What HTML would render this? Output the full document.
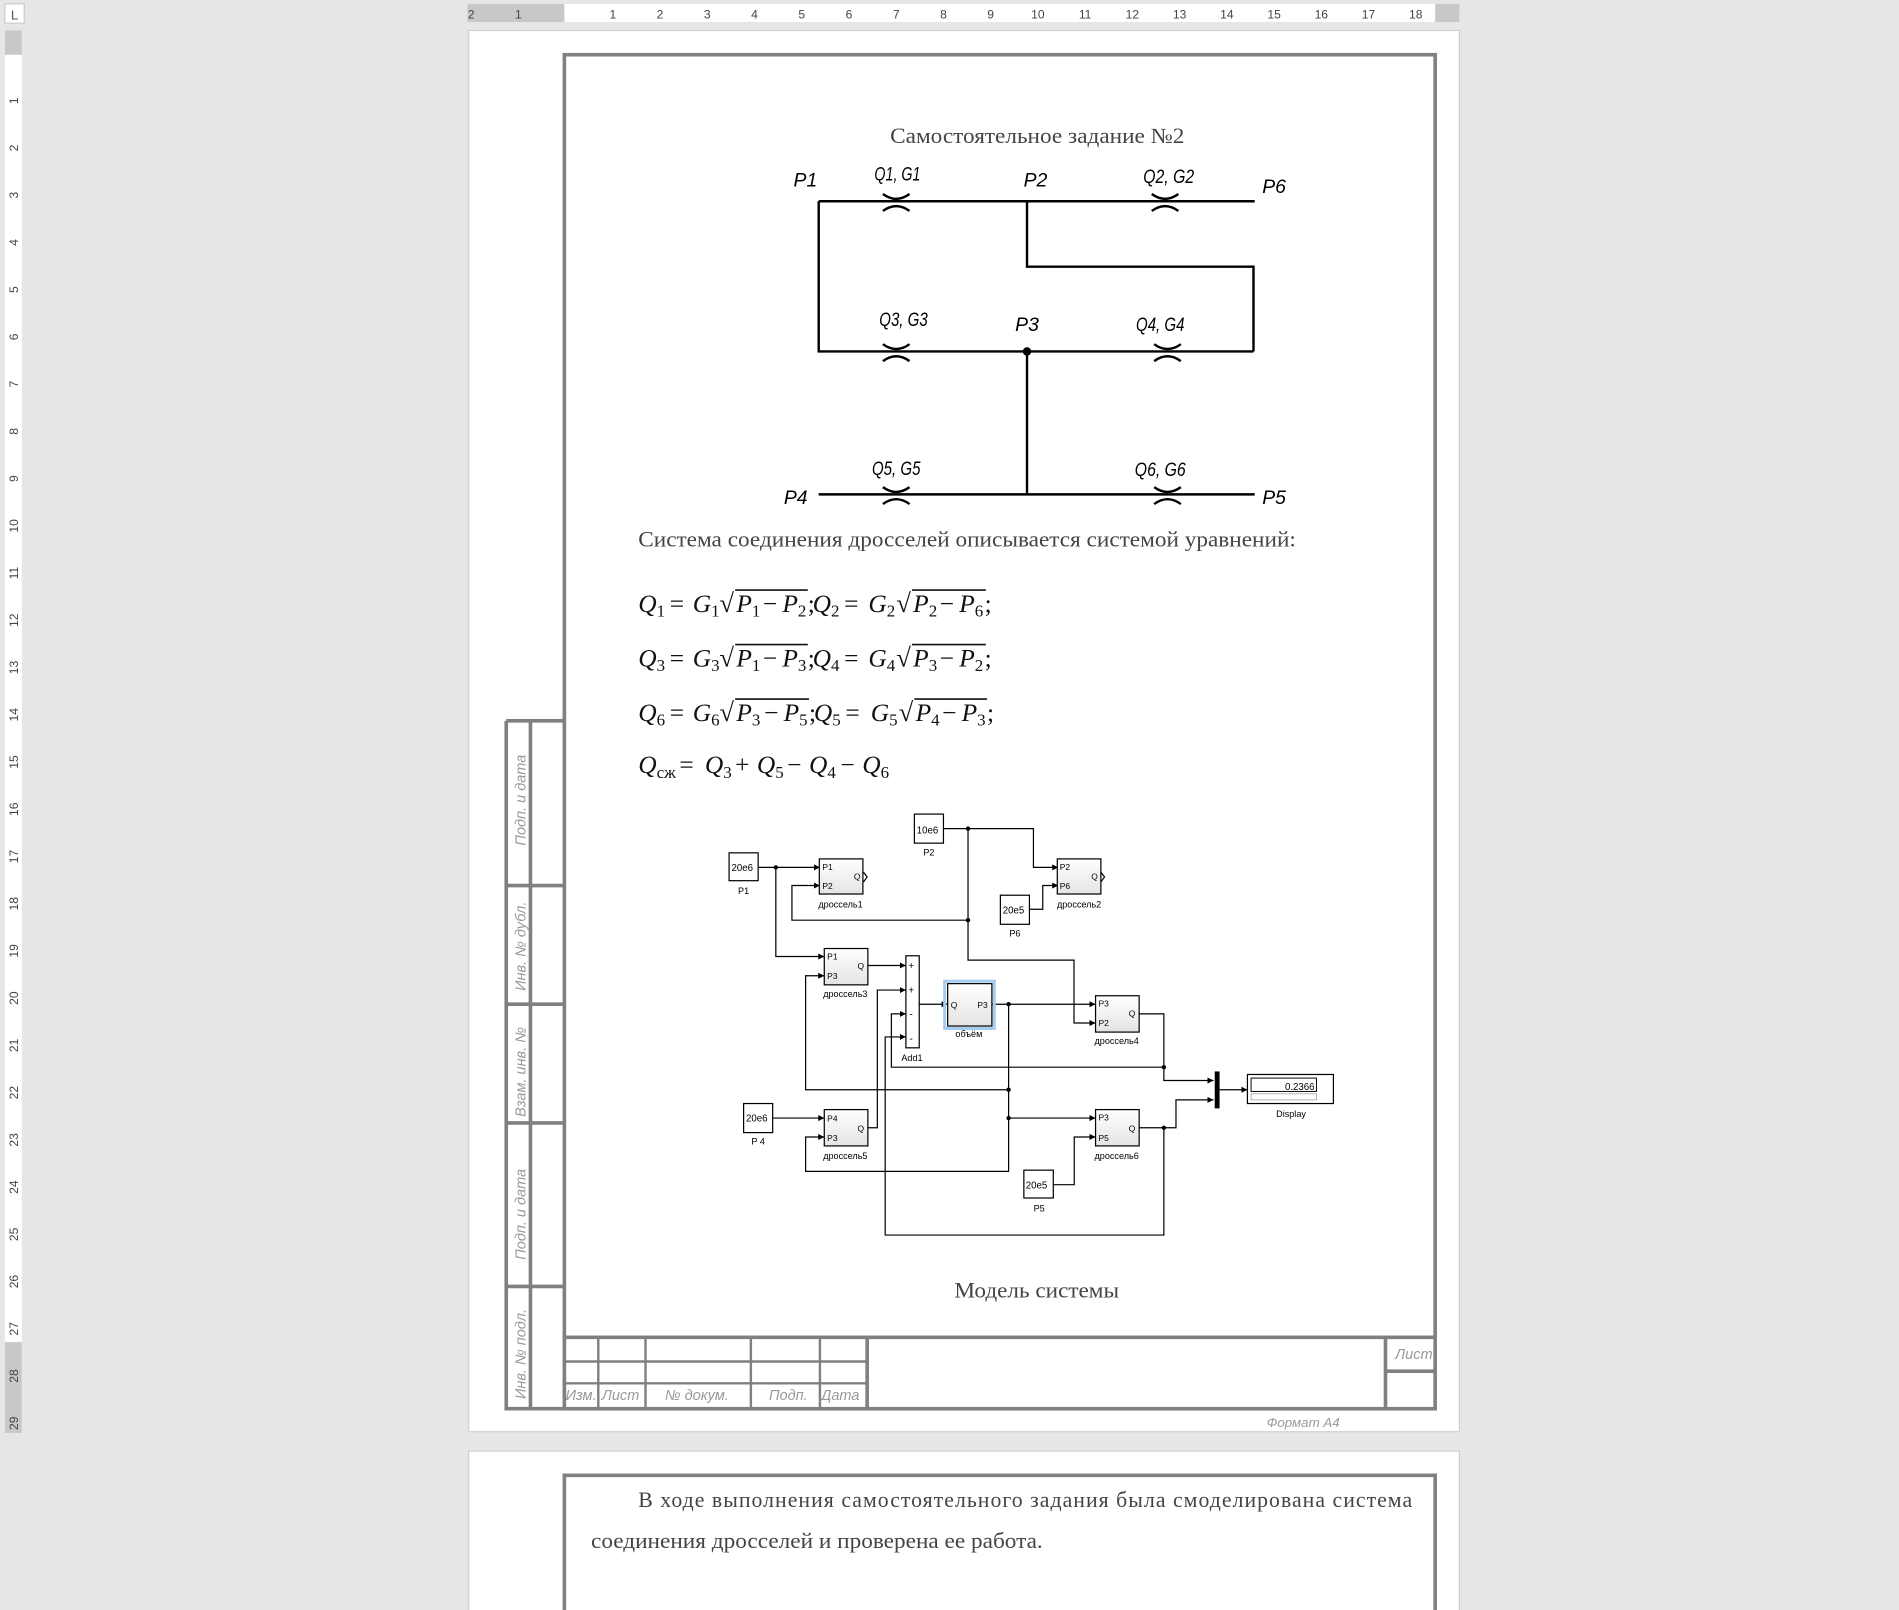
<!DOCTYPE html>
<html><head><meta charset="utf-8"><style>html,body{margin:0;padding:0;background:#e6e6e6;}svg{display:block}</style></head>
<body>
<svg width="1899" height="1610" viewBox="0 0 1568 1329" xmlns="http://www.w3.org/2000/svg" font-family="Liberation Sans, sans-serif">
<defs>
<marker id="ar" viewBox="0 0 10 10" refX="10" refY="5" markerWidth="5" markerHeight="5" orient="auto" markerUnits="userSpaceOnUse"><path d="M0,0L10,5L0,10z" fill="#000"/></marker>
<linearGradient id="bg" x1="0" y1="0" x2="0" y2="1"><stop offset="0" stop-color="#fff"/><stop offset="1" stop-color="#e4e4e4"/></linearGradient>
</defs>
<rect width="1568" height="1329" fill="#e6e6e6"/>
<rect x="4" y="3" width="16" height="16" fill="#fff" stroke="#ccc"/><text x="9" y="16" font-size="11" fill="#555">L</text>
<rect x="386" y="3" width="819" height="15" fill="#c8c8c8"/>
<rect x="466" y="3" width="719" height="15" fill="#fff"/>
<g font-size="10" fill="#444" text-anchor="middle">
<text x="389" y="15">2</text><text x="428" y="15">1</text>
<text x="506" y="15">1</text><text x="545" y="15">2</text><text x="584" y="15">3</text><text x="623" y="15">4</text><text x="662" y="15">5</text><text x="701" y="15">6</text><text x="740" y="15">7</text><text x="779" y="15">8</text><text x="818" y="15">9</text><text x="857" y="15">10</text><text x="896" y="15">11</text><text x="935" y="15">12</text><text x="974" y="15">13</text><text x="1013" y="15">14</text><text x="1052" y="15">15</text><text x="1091" y="15">16</text><text x="1130" y="15">17</text><text x="1169" y="15">18</text>
</g>
<rect x="4" y="25" width="14" height="1158" fill="#fff"/>
<rect x="4" y="25" width="14" height="20" fill="#c8c8c8"/>
<rect x="4" y="1108" width="14" height="75" fill="#c8c8c8"/>
<g font-size="10" fill="#444" text-anchor="middle">
<text transform="translate(15,83) rotate(-90)">1</text><text transform="translate(15,122) rotate(-90)">2</text><text transform="translate(15,161) rotate(-90)">3</text><text transform="translate(15,200) rotate(-90)">4</text><text transform="translate(15,239) rotate(-90)">5</text><text transform="translate(15,278) rotate(-90)">6</text><text transform="translate(15,317) rotate(-90)">7</text><text transform="translate(15,356) rotate(-90)">8</text><text transform="translate(15,395) rotate(-90)">9</text><text transform="translate(15,434) rotate(-90)">10</text><text transform="translate(15,473) rotate(-90)">11</text><text transform="translate(15,512) rotate(-90)">12</text><text transform="translate(15,551) rotate(-90)">13</text><text transform="translate(15,590) rotate(-90)">14</text><text transform="translate(15,629) rotate(-90)">15</text><text transform="translate(15,668) rotate(-90)">16</text><text transform="translate(15,707) rotate(-90)">17</text><text transform="translate(15,746) rotate(-90)">18</text><text transform="translate(15,785) rotate(-90)">19</text><text transform="translate(15,824) rotate(-90)">20</text><text transform="translate(15,863) rotate(-90)">21</text><text transform="translate(15,902) rotate(-90)">22</text><text transform="translate(15,941) rotate(-90)">23</text><text transform="translate(15,980) rotate(-90)">24</text><text transform="translate(15,1019) rotate(-90)">25</text><text transform="translate(15,1058) rotate(-90)">26</text><text transform="translate(15,1097) rotate(-90)">27</text><text transform="translate(15,1136) rotate(-90)">28</text><text transform="translate(15,1175) rotate(-90)">29</text>
</g>
<rect x="387" y="25" width="818" height="1157" fill="#fff" stroke="#d0d0d0"/>
<rect x="387" y="1198" width="818" height="140" fill="#fff" stroke="#d0d0d0"/>
<g fill="none" stroke="#808080" stroke-width="3">
<rect x="466" y="45" width="719" height="1118"/>
<path d="M418,595V1163H466M438,595V1163M418,595H466M418,731H466M418,829H466M418,927H466M418,1062H466"/>
<path d="M466,1104H1185M716,1104V1163M1144,1104V1163M1144,1132H1185"/>
<path d="M466,1218V1340H1185V1218z"/>
</g>
<g fill="none" stroke="#808080" stroke-width="2">
<path d="M494,1104V1163M533,1104V1163M620,1104V1163M677,1104V1163M466,1124H716M466,1142H716"/>
</g>
<g font-size="12" fill="#999" font-style="italic">
<text transform="translate(434,698) rotate(-90)">Подп. и дата</text>
<text transform="translate(434,818) rotate(-90)">Инв. № дубл.</text>
<text transform="translate(434,922) rotate(-90)">Взам. инв. №</text>
<text transform="translate(434,1040) rotate(-90)">Подп. и дата</text>
<text transform="translate(434,1155) rotate(-90)">Инв. № подл.</text>
<text x="467" y="1156">Изм.</text><text x="497" y="1156">Лист</text><text x="549" y="1156">№ докум.</text><text x="635" y="1156">Подп.</text><text x="678" y="1156">Дата</text>
<text x="1152" y="1122">Лист</text>
<text x="1046" y="1178" font-size="11">Формат А4</text>
</g>
<g font-family="Liberation Serif, serif" fill="#444" font-size="18">
<text x="735" y="118" textLength="243" lengthAdjust="spacingAndGlyphs">Самостоятельное задание №2</text>
<text x="527" y="451" textLength="543" lengthAdjust="spacingAndGlyphs">Система соединения дросселей описывается системой уравнений:</text>
<text x="788" y="1071" textLength="136" lengthAdjust="spacingAndGlyphs">Модель системы</text>
<text x="527" y="1244" textLength="639" lengthAdjust="spacing">В ходе выполнения самостоятельного задания была смоделирована система</text>
<text x="488" y="1278" textLength="373" lengthAdjust="spacingAndGlyphs">соединения дросселей и проверена ее работа.</text>
</g>
<g stroke="#000" stroke-width="2" fill="none">
<path d="M676,166H1036M676,166V290H1035M848,166V220H1035V290M848,290V408M676,408H1036"/>
<path d="M729,160Q740,168 751,160M729,174Q740,166 751,174"/>
<path d="M951,160Q962,168 973,160M951,174Q962,166 973,174"/>
<path d="M729,284Q740,292 751,284M729,298Q740,290 751,298"/>
<path d="M953,284Q964,292 975,284M953,298Q964,290 975,298"/>
<path d="M729,402Q740,410 751,402M729,416Q740,408 751,416"/>
<path d="M953,402Q964,410 975,402M953,416Q964,408 975,416"/>
</g>
<circle cx="848" cy="290" r="3.5"/>
<g font-size="16" font-style="italic" fill="#000" text-anchor="middle" font-family="Liberation Sans Narrow, Liberation Sans, sans-serif">
<text x="665" y="154">P1</text><text x="741" y="149" textLength="38" lengthAdjust="spacingAndGlyphs">Q1, G1</text><text x="855" y="154">P2</text><text x="965" y="151" textLength="42" lengthAdjust="spacingAndGlyphs">Q2, G2</text><text x="1052" y="159">P6</text>
<text x="746" y="269" textLength="40" lengthAdjust="spacingAndGlyphs">Q3, G3</text><text x="848" y="273">P3</text><text x="958" y="273" textLength="40" lengthAdjust="spacingAndGlyphs">Q4, G4</text>
<text x="657" y="416">P4</text><text x="740" y="392" textLength="40" lengthAdjust="spacingAndGlyphs">Q5, G5</text><text x="958" y="393" textLength="42" lengthAdjust="spacingAndGlyphs">Q6, G6</text><text x="1052" y="416">P5</text>
</g>
<g font-family="Liberation Serif, serif" font-size="21" fill="#111" font-style="italic">
<g transform="translate(0,505)">
<text x="527">Q<tspan font-size="14" dy="4" font-style="normal">1</tspan></text><text x="553" font-style="normal">=</text><text x="572">G<tspan font-size="14" dy="4" font-style="normal">1</tspan></text>
<text x="594" font-style="normal" font-size="22">√</text><line x1="607" y1="-18" x2="667" y2="-18" stroke="#111" stroke-width="1.3"/>
<text x="608">P<tspan font-size="14" dy="4" font-style="normal">1</tspan></text><text x="630" font-style="normal">−</text><text x="646">P<tspan font-size="14" dy="4" font-style="normal">2</tspan></text><text x="667" font-style="normal">;</text>
<text x="671">Q<tspan font-size="14" dy="4" font-style="normal">2</tspan></text><text x="697" font-style="normal">=</text><text x="717">G<tspan font-size="14" dy="4" font-style="normal">2</tspan></text>
<text x="740" font-style="normal" font-size="22">√</text><line x1="753" y1="-18" x2="814" y2="-18" stroke="#111" stroke-width="1.3"/>
<text x="754">P<tspan font-size="14" dy="4" font-style="normal">2</tspan></text><text x="776" font-style="normal">−</text><text x="792">P<tspan font-size="14" dy="4" font-style="normal">6</tspan></text><text x="813" font-style="normal">;</text>
</g>
<g transform="translate(0,550)">
<text x="527">Q<tspan font-size="14" dy="4" font-style="normal">3</tspan></text><text x="553" font-style="normal">=</text><text x="572">G<tspan font-size="14" dy="4" font-style="normal">3</tspan></text>
<text x="594" font-style="normal" font-size="22">√</text><line x1="607" y1="-18" x2="667" y2="-18" stroke="#111" stroke-width="1.3"/>
<text x="608">P<tspan font-size="14" dy="4" font-style="normal">1</tspan></text><text x="630" font-style="normal">−</text><text x="646">P<tspan font-size="14" dy="4" font-style="normal">3</tspan></text><text x="667" font-style="normal">;</text>
<text x="671">Q<tspan font-size="14" dy="4" font-style="normal">4</tspan></text><text x="697" font-style="normal">=</text><text x="717">G<tspan font-size="14" dy="4" font-style="normal">4</tspan></text>
<text x="740" font-style="normal" font-size="22">√</text><line x1="753" y1="-18" x2="814" y2="-18" stroke="#111" stroke-width="1.3"/>
<text x="754">P<tspan font-size="14" dy="4" font-style="normal">3</tspan></text><text x="776" font-style="normal">−</text><text x="792">P<tspan font-size="14" dy="4" font-style="normal">2</tspan></text><text x="813" font-style="normal">;</text>
</g>
<g transform="translate(0,595)">
<text x="527">Q<tspan font-size="14" dy="4" font-style="normal">6</tspan></text><text x="553" font-style="normal">=</text><text x="572">G<tspan font-size="14" dy="4" font-style="normal">6</tspan></text>
<text x="594" font-style="normal" font-size="22">√</text><line x1="607" y1="-18" x2="668" y2="-18" stroke="#111" stroke-width="1.3"/>
<text x="608">P<tspan font-size="14" dy="4" font-style="normal">3</tspan></text><text x="631" font-style="normal">−</text><text x="647">P<tspan font-size="14" dy="4" font-style="normal">5</tspan></text><text x="668" font-style="normal">;</text>
<text x="672">Q<tspan font-size="14" dy="4" font-style="normal">5</tspan></text><text x="698" font-style="normal">=</text><text x="719">G<tspan font-size="14" dy="4" font-style="normal">5</tspan></text>
<text x="742" font-style="normal" font-size="22">√</text><line x1="755" y1="-18" x2="815" y2="-18" stroke="#111" stroke-width="1.3"/>
<text x="756">P<tspan font-size="14" dy="4" font-style="normal">4</tspan></text><text x="778" font-style="normal">−</text><text x="794">P<tspan font-size="14" dy="4" font-style="normal">3</tspan></text><text x="815" font-style="normal">;</text>
</g>
<g transform="translate(0,638)">
<text x="527">Q<tspan font-size="14" dy="4" font-style="normal">сж</tspan></text><text x="561" font-style="normal">=</text><text x="582">Q<tspan font-size="14" dy="4" font-style="normal">3</tspan></text>
<text x="607" font-style="normal">+</text><text x="625">Q<tspan font-size="14" dy="4" font-style="normal">5</tspan></text><text x="650" font-style="normal">−</text><text x="668">Q<tspan font-size="14" dy="4" font-style="normal">4</tspan></text><text x="694" font-style="normal">−</text><text x="712">Q<tspan font-size="14" dy="4" font-style="normal">6</tspan></text>
</g>
</g>
<g stroke="#000" stroke-width="1" fill="none" marker-end="url(#ar)">
<path d="M626,716H677"/>
<path d="M640.6,716V789.6H680.6"/>
<path d="M779,684H853.3V716H873.8"/>
<path d="M799.3,684V792.6H886.8V844.5H904.6"/>
<path d="M799.3,759.6H653.9V731H677"/>
<path d="M850,750.6H861V731H873.8"/>
<path d="M716.5,797H748"/>
<path d="M759,829H782.5"/>
<path d="M819,829H904.6"/>
<path d="M832.8,829V967H665.2V938.6H680.6"/>
<path d="M832.8,899.6H665.2V805.5H680.6"/>
<path d="M832.8,923H904.6"/>
<path d="M638,923H680.6"/>
<path d="M716.5,931H724.4V817.3H748"/>
<path d="M961,881H736V837H748"/>
<path d="M961,931V1019.6H730.9V856H748"/>
<path d="M940.5,837H961V892H1002"/>
<path d="M940.5,931H971V908H1002"/>
<path d="M1007,899.6H1030"/>
<path d="M870,978H887V938.6H904.6"/>
</g>
<g fill="#000">
<circle cx="640.6" cy="716" r="1.8"/><circle cx="799.3" cy="684" r="1.8"/><circle cx="799.3" cy="759.6" r="1.8"/><circle cx="832.8" cy="829" r="1.8"/><circle cx="832.8" cy="899.6" r="1.8"/><circle cx="832.8" cy="923" r="1.8"/><circle cx="961" cy="881" r="1.8"/><circle cx="961" cy="931" r="1.8"/>
</g>
<g stroke="#000" stroke-width="1" fill="url(#bg)">
<rect x="602" y="704" width="24" height="23" fill="#fff"/>
<rect x="755" y="672" width="24" height="24" fill="#fff"/>
<rect x="826" y="739" width="24" height="24" fill="#fff"/>
<rect x="614" y="911" width="24" height="24" fill="#fff"/>
<rect x="845.4" y="966" width="24.3" height="23" fill="#fff"/>
<rect x="676.5" y="709" width="36" height="29"/>
<rect x="873" y="709" width="36" height="29"/>
<rect x="680.6" y="783" width="36" height="30"/>
<rect x="904.6" y="822" width="36" height="30"/>
<rect x="680.6" y="916" width="36" height="30"/>
<rect x="904.6" y="916" width="36" height="30"/>
<rect x="748" y="789" width="11" height="76" fill="#fff"/>
<rect x="780" y="810" width="41" height="39" fill="none" stroke="#a8ccf0" stroke-width="2.5"/>
<rect x="782.5" y="812" width="36.5" height="35"/>
<rect x="1030" y="887" width="71" height="24" fill="#fff"/>
</g>
<rect x="1003" y="884.5" width="4" height="30.5" fill="#000"/>
<path d="M713,720l3,4l-3,4M909,720l3,4l-3,4" stroke="#000" fill="none"/>
<rect x="1033" y="890" width="54" height="11" fill="#fff" stroke="#000" stroke-width="0.8"/>
<rect x="1033" y="903" width="54" height="5" fill="#fff" stroke="#999" stroke-width="0.6"/>
<g font-size="8" fill="#000">
<text x="604" y="719">20e6</text><text x="757" y="688">10e6</text><text x="828" y="754">20e5</text><text x="616" y="926">20e6</text><text x="847" y="981">20e5</text>
<text x="679" y="718" font-size="7">P1</text><text x="679" y="734" font-size="7">P2</text><text x="705" y="726" font-size="7">Q</text>
<text x="875" y="718" font-size="7">P2</text><text x="875" y="734" font-size="7">P6</text><text x="901" y="726" font-size="7">Q</text>
<text x="683" y="792" font-size="7">P1</text><text x="683" y="808" font-size="7">P3</text><text x="708" y="800" font-size="7">Q</text>
<text x="907" y="831" font-size="7">P3</text><text x="907" y="847" font-size="7">P2</text><text x="932" y="839" font-size="7">Q</text>
<text x="683" y="926" font-size="7">P4</text><text x="683" y="942" font-size="7">P3</text><text x="708" y="934" font-size="7">Q</text>
<text x="907" y="925" font-size="7">P3</text><text x="907" y="942" font-size="7">P5</text><text x="932" y="934" font-size="7">Q</text>
<text x="785" y="832" font-size="7">Q</text><text x="807" y="832" font-size="7">P3</text>
<text x="750" y="800" font-size="8">+</text><text x="750" y="820" font-size="8">+</text><text x="751" y="840" font-size="8">-</text><text x="751" y="860" font-size="8">-</text>
<text x="1061" y="900" font-size="8">0.2366</text>
</g>
<g font-size="7.5" fill="#000" text-anchor="middle">
<text x="614" y="738">P1</text><text x="767" y="706">P2</text><text x="838" y="773">P6</text><text x="626" y="945">P 4</text><text x="858" y="1000">P5</text>
<text x="694" y="749">дроссель1</text><text x="891" y="749">дроссель2</text><text x="698" y="823">дроссель3</text><text x="922" y="862">дроссель4</text><text x="698" y="957">дроссель5</text><text x="922" y="957">дроссель6</text>
<text x="753" y="876">Add1</text><text x="800" y="856">объём</text><text x="1066" y="922">Display</text>
</g>
</svg>
</body></html>
